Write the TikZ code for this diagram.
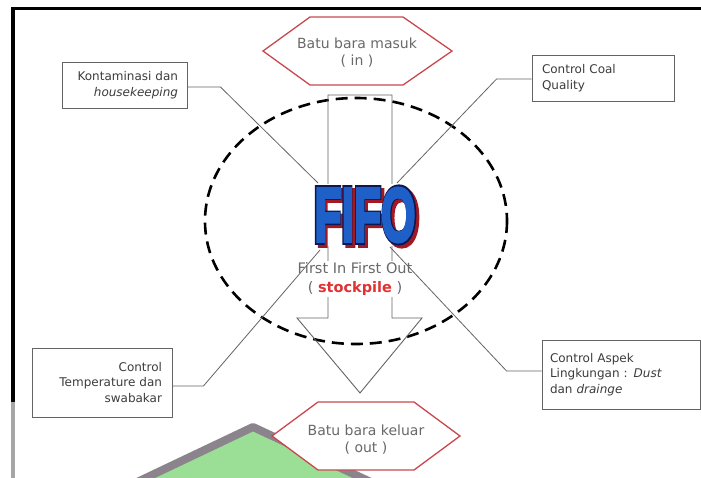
\documentclass[tikz,border=0pt]{standalone}
\usepackage{fontspec}
\setmainfont{DejaVu Sans}
\newfontfamily\fifofontA{Liberation Sans Bold}[FakeBold=4.5]
\newfontfamily\fifofontB{Liberation Sans Bold}[FakeBold=7.5]
\usetikzlibrary{calc}
\definecolor{boxgray}{RGB}{100,100,100}
\definecolor{txtgray}{RGB}{60,60,60}
\definecolor{softgray}{RGB}{105,105,105}
\definecolor{hexred}{RGB}{200,72,78}
\definecolor{fifoblue}{RGB}{30,96,200}
\definecolor{fifonavy}{RGB}{12,22,80}
\definecolor{fifored}{RGB}{160,25,35}
\definecolor{stockred}{RGB}{225,50,50}
\definecolor{blobgreen}{RGB}{155,222,150}
\definecolor{blobedge}{RGB}{140,132,140}
\newcommand\fifothin{\resizebox{101pt}{53pt}{\fifofontA FIFO}}
\newcommand\fifothick{\resizebox{103pt}{54.5pt}{\fifofontB FIFO}}
\begin{document}
\begin{tikzpicture}[x=1pt,y=-1pt,
  infobox/.style={draw=boxgray, fill=white, line width=0.9pt, font=\fontsize{12}{15.5}\selectfont, text=txtgray, inner xsep=0pt, inner ysep=0pt},
  conn/.style={draw=boxgray, line width=0.8pt},
  hexline/.style={draw=hexred, line width=1.3pt, fill=white, line join=miter},
  hextext/.style={font=\fontsize{14}{17}\selectfont, text=softgray, align=center},
  arrowline/.style={draw=boxgray, line width=0.9pt},
  fifolayer/.style={inner sep=0pt}
]
\useasboundingbox (0,0) rectangle (701,478);
% frame
\fill[black] (11,7) rectangle (701,10.5);
\fill[black] (11,7) rectangle (15,402);
\fill[gray!70] (11,402) rectangle (15,478);
% green blob
\draw[blobedge, line width=8pt, fill=blobgreen, line join=round] (133,484) -- (253,427) -- (375,484);
% dashed ellipse
\draw[line width=2.6pt, dash pattern=on 12pt off 7pt] (356,221) ellipse [x radius=151, y radius=123];
% big arrow
\draw[arrowline] (328,95) -- (328,318) -- (297,318) -- (360,393) -- (422,318) -- (392,318) -- (392,95) -- cycle;
% FIFO: white patch, red shadow, navy outline, blue face
\node[fill=white, minimum width=112pt, minimum height=62pt, inner sep=0pt] (fifo) at (365,215) {};
\node[fifolayer, text=fifored] (fifoshadow) at ([shift={(3pt,-3pt)}]fifo.center) {\fifothick};
\node[fifolayer, text=fifonavy] (fifoedge) at (fifo.center) {\fifothick};
\node[fifolayer, text=fifoblue] (fifoface) at (fifo.center) {\fifothin};
\node[fill=white, inner sep=1pt, font=\fontsize{14.5}{19}\selectfont, text=softgray, align=center] (sub) at (355,279) {First In First Out\\( {\color{stockred}\bfseries stockpile} )};
% hexagons
\draw[hexline] (263,51) -- (310,17) -- (403,17) -- (452,51) -- (403,85) -- (310,85) -- cycle;
\node[hextext] (in) at (357,53) {Batu bara masuk\\( in )};
\draw[hexline] (272,436) -- (318,402) -- (414,402) -- (460,436) -- (414,470) -- (318,470) -- cycle;
\node[hextext] (out) at (366,440) {Batu bara keluar\\( out )};
% boxes
\node[infobox, minimum width=125pt, minimum height=46pt, text width=107pt, align=right] (kont) at (124.5,85) {Kontaminasi dan\\\textit{housekeeping}};
\node[infobox, minimum width=142pt, minimum height=46pt, text width=122pt, align=left] (coal) at (603,78) {Control Coal\\Quality};
\node[infobox, minimum width=140pt, minimum height=69pt, text width=120pt, align=right] (temp) at (102,382.5) {Control\\Temperature dan\\swabakar};
\node[infobox, minimum width=158pt, minimum height=69pt, text width=142pt, align=left] (aspek) at (621,374.5) {Control Aspek\\Lingkungan : \textit{Dust}\\dan \textit{drainge}};
% connector ends near FIFO
\coordinate (fifoNW) at (318,183);
\coordinate (fifoNE) at (397,183);
\coordinate (fifoSW) at (320,250);
\coordinate (fifoSE) at (390,247);
\draw[conn] ([yshift=-2pt]kont.east) -- ++(33,0) -- (fifoNW);
\draw[conn] ([yshift=-1pt]coal.west) -- ++(-35,0) -- (fifoNE);
\draw[conn] ([yshift=-3.5pt]temp.east) -- ++(31,0) -- (fifoSW);
\draw[conn] ([yshift=3.5pt]aspek.west) -- ++(-35,0) -- (fifoSE);
\end{tikzpicture}
\end{document}
